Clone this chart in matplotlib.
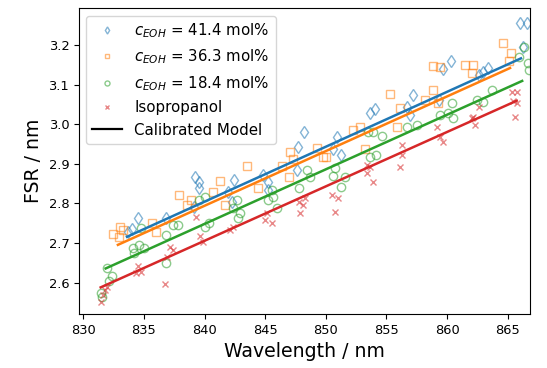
import numpy as np
import matplotlib
matplotlib.use("Agg")
import matplotlib.pyplot as plt

wl_41 = [833.65, 833.98, 834.47, 836.78, 839.09, 839.17, 839.58, 839.58, 841.97, 842.46,
         842.30, 844.85, 845.26, 845.26, 847.65, 847.73, 848.23, 850.62, 850.95, 851.28,
         853.67, 854.07, 856.71, 856.96, 857.21, 859.35, 859.68, 860.34, 862.65, 862.98,
         863.39, 866.27, 866.03, 866.60]
fsr_41 = [2.728, 2.735, 2.762, 2.763, 2.791, 2.867, 2.854, 2.839, 2.829, 2.859,
          2.804, 2.872, 2.854, 2.834, 2.884, 2.942, 2.980, 2.937, 2.968, 2.922,
          3.028, 3.038, 3.043, 3.023, 3.074, 3.061, 3.139, 3.160, 3.124, 3.132,
          3.142, 3.195, 3.256, 3.256]

wl_36 = [832.41, 832.99, 833.24, 832.91, 835.63, 835.96, 837.85, 838.51, 838.84, 840.73,
         841.31, 841.72, 843.53, 844.44, 846.42, 846.99, 847.08, 847.32, 849.30, 849.79,
         850.04, 852.27, 852.84, 853.25, 855.31, 855.89, 856.14, 858.20, 858.86, 859.27,
         858.86, 859.43, 861.49, 862.15, 862.07, 864.62, 865.12, 865.28]
fsr_36 = [2.723, 2.740, 2.733, 2.715, 2.750, 2.728, 2.821, 2.796, 2.809, 2.829,
          2.857, 2.796, 2.894, 2.839, 2.894, 2.867, 2.930, 2.912, 2.940, 2.917,
          2.917, 2.985, 2.993, 2.937, 3.076, 2.993, 3.041, 3.061, 3.086, 3.054,
          3.147, 3.144, 3.149, 3.149, 3.129, 3.205, 3.160, 3.180]

wl_18 = [831.43, 831.51, 831.92, 832.33, 832.08, 834.06, 834.56, 834.97, 834.14, 834.72,
         836.78, 837.36, 837.77, 836.78, 840.07, 840.40, 839.58, 840.07, 842.71, 842.38,
         842.79, 842.96, 845.26, 845.59, 845.67, 846.00, 847.81, 848.47, 848.72, 850.62,
         850.79, 851.28, 851.61, 853.50, 853.92, 853.67, 854.16, 854.66, 856.71, 857.54,
         859.43, 860.09, 860.42, 860.50, 862.48, 862.98, 863.72, 865.90, 866.35, 866.68,
         866.77]
fsr_18 = [2.574, 2.563, 2.637, 2.617, 2.604, 2.687, 2.694, 2.687, 2.674, 2.738,
          2.720, 2.745, 2.745, 2.649, 2.740, 2.751, 2.809, 2.816, 2.809, 2.788,
          2.763, 2.776, 2.809, 2.834, 2.816, 2.788, 2.839, 2.884, 2.867, 2.869,
          2.889, 2.841, 2.867, 2.980, 2.980, 2.917, 2.922, 2.970, 2.993, 2.998,
          3.023, 3.028, 3.054, 3.016, 3.061, 3.056, 3.086, 3.170, 3.195, 3.155,
          3.137]

wl_iso = [831.43, 831.59, 831.75, 831.92, 834.31, 834.47, 834.72, 836.70, 836.94, 837.11,
          837.36, 839.33, 839.66, 839.83, 842.13, 842.38, 845.02, 845.18, 845.59, 847.81,
          848.15, 847.89, 848.31, 850.53, 851.03, 850.79, 853.42, 853.67, 853.42, 853.92,
          856.30, 856.14, 856.30, 859.18, 859.43, 859.68, 862.07, 862.65, 862.15, 862.32,
          865.36, 865.77, 865.44, 865.77, 865.61]
fsr_iso = [2.551, 2.569, 2.581, 2.589, 2.624, 2.642, 2.627, 2.596, 2.665, 2.690,
           2.682, 2.766, 2.718, 2.703, 2.733, 2.740, 2.758, 2.776, 2.750, 2.804,
           2.796, 2.776, 2.814, 2.821, 2.814, 2.778, 2.897, 2.892, 2.877, 2.854,
           2.947, 2.892, 2.922, 2.993, 2.968, 2.955, 3.016, 3.043, 3.018, 2.998,
           3.081, 3.081, 3.059, 3.054, 3.018]

# Kalibriertes Modell: FSR = a + b * (wl - 850), gueltig von x_start bis x_end
model_a = [2.943, 2.932, 2.886, 2.843]
model_b = [0.01385, 0.01379, 0.01377, 0.01372]
model_start = [833.6, 832.85, 831.84, 831.43]
model_end = [866.1, 865.2, 866.2, 865.75]

labels = [r"$c_{EOH}$ = 41.4 mol%", r"$c_{EOH}$ = 36.3 mol%",
          r"$c_{EOH}$ = 18.4 mol%", "Isopropanol"]
colors = ["tab:blue", "tab:orange", "tab:green", "tab:red"]
markers = ["d", "s", "o", "x"]

fig = plt.figure(figsize=(5.47, 3.68), dpi=100)
ax = fig.add_axes([0.1444, 0.1467, 0.8246, 0.8315])

series = [(wl_41, fsr_41), (wl_36, fsr_36), (wl_18, fsr_18), (wl_iso, fsr_iso)]
for i, (wl, fsr) in enumerate(series):
    if markers[i] == "x":
        ax.plot(wl, fsr, ls="none", marker="x", ms=5, mew=1.0,
                color=colors[i], alpha=0.55, label=labels[i])
    else:
        ax.plot(wl, fsr, ls="none", marker=markers[i], ms=6, mew=1.0,
                mfc="none", mec=colors[i], alpha=0.55, label=labels[i])

for i in range(4):
    x = np.array([model_start[i], model_end[i]])
    y = model_a[i] + model_b[i] * (x - 850)
    ax.plot(x, y, color=colors[i], lw=1.8)

ax.plot([], [], color="black", lw=1.6, label="Calibrated Model")

ax.set_xlim(829.64, 866.85)
ax.set_ylim(2.521, 3.293)
ax.set_xticks(np.arange(830, 866, 5))
ax.set_yticks([2.6, 2.7, 2.8, 2.9, 3.0, 3.1, 3.2])
ax.tick_params(labelsize=9.4)
ax.set_xlabel("Wavelength / nm", fontsize=13.6)
ax.set_ylabel("FSR / nm", fontsize=13.6)
ax.legend(loc="upper left", fontsize=10.8, markerscale=0.6)

fig.savefig("out.png", dpi=100)
